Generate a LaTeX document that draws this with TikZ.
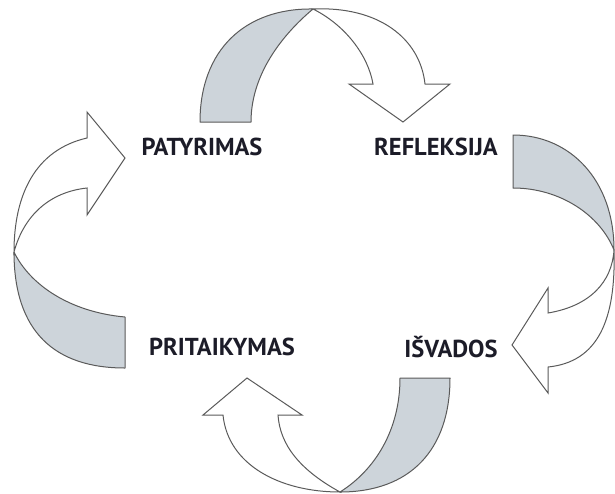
\documentclass[tikz,border=0pt]{standalone}
\usepackage{fontspec}
\setmainfont{PT Sans}
\definecolor{ribbongray}{HTML}{CDD4DA}
\definecolor{ribbonline}{HTML}{5A5A5A}
\definecolor{labelink}{HTML}{1C1C28}
\begin{document}
\begin{tikzpicture}[x=1pt,y=-1pt,
    backside/.style={fill=ribbongray,draw=ribbonline,line width=1pt,line join=round},
    frontside/.style={fill=white,draw=ribbonline,line width=1pt,line join=miter},
    stage/.style={anchor=base,text=labelink,font=\bfseries\fontsize{24.5}{24.5}\selectfont,inner sep=0pt}]
    \useasboundingbox (0,0) rectangle (615,493);

    % top ribbon
    \filldraw[backside] (200,122) .. controls (200,50) and (245,8) .. (313,9)
        .. controls (288,30) and (251,70) .. (251,122) -- cycle;
    \filldraw[frontside] (313,9) .. controls (378,6) and (420,38) .. (425,84)
        -- (450,84) -- (403,122) -- (349,84) -- (373,84)
        .. controls (368,55) and (345,25) .. (313,9) -- cycle;

    % right ribbon
    \filldraw[backside] (513,135) .. controls (570,135) and (614,180) .. (614,250)
        .. controls (600,215) and (560,188) .. (513,188) -- cycle;
    \filldraw[frontside] (614,250) .. controls (612,282) and (590,306) .. (548,313)
        -- (548,288) -- (512,345) -- (548,393) -- (548,367)
        .. controls (598,362) and (616,320) .. (614,250) -- cycle;

    % bottom ribbon
    \filldraw[backside] (450,378) .. controls (450,450) and (410,492) .. (340,492)
        .. controls (375,470) and (400,430) .. (400,378) -- cycle;
    \filldraw[frontside] (340,492) .. controls (300,470) and (280,445) .. (278,415)
        -- (302,415) -- (247,378) -- (203,415) -- (223,415)
        .. controls (228,465) and (280,492) .. (340,492) -- cycle;

    % left ribbon
    \filldraw[backside] (14,252) .. controls (14,332) and (55,368) .. (125,368)
        -- (125,317) .. controls (70,312) and (30,285) .. (14,252) -- cycle;
    \filldraw[frontside] (14,252) .. controls (24,215) and (50,192) .. (87,188)
        -- (87,215) -- (125,158) -- (87,112) -- (87,138)
        .. controls (35,150) and (14,195) .. (14,252) -- cycle;

    \node[stage] (patyrimas) at (202,155) {PATYRIMAS};
    \node[stage] (refleksija) at (436,155) {REFLEKSIJA};
    \node[stage] (isvados) at (451,357) {IŠVADOS};
    \node[stage] (pritaikymas) at (222,355) {PRITAIKYMAS};
\end{tikzpicture}
\end{document}
